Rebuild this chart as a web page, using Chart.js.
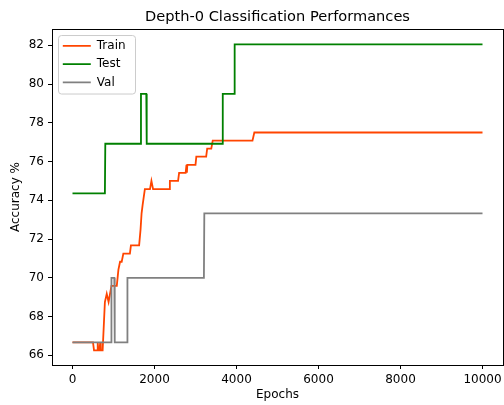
<!DOCTYPE html>
<html><head><meta charset="utf-8">
<script src="https://cdn.jsdelivr.net/npm/chart.js@4/dist/chart.umd.min.js"></script>
<style>html,body{margin:0;padding:0;background:#fff;}canvas{display:block;}</style>
</head><body>
<canvas id="c" width="504" height="405"></canvas>
<script>
const chartTitle = 'Depth-0 Classification Performances';
const seriesNames = ['Train', 'Test', 'Val'];
const xTicks = [0, 2000, 4000, 6000, 8000, 10000];
const yTicks = [66, 68, 70, 72, 74, 76, 78, 80, 82];

const trainEpochs = [0, 500, 525, 600, 615, 630, 660, 675, 690, 735, 790, 835, 880, 950, 1080, 1120, 1160, 1200, 1240, 1400, 1425, 1625, 1660, 1685, 1710, 1765, 1890, 1925, 1965, 2355, 2375, 2575, 2600, 2760, 2780, 2790, 2800, 3000, 3020, 3260, 3285, 3385, 3420, 4390, 4435, 10000];
const trainAcc = [66.67, 66.67, 66.25, 66.25, 66.67, 66.25, 66.25, 66.67, 66.25, 66.25, 68.75, 69.17, 68.75, 69.58, 69.58, 70.42, 70.83, 70.83, 71.25, 71.25, 71.67, 71.67, 72.50, 73.33, 73.75, 74.58, 74.58, 75.00, 74.58, 74.58, 75.00, 75.00, 75.42, 75.42, 75.83, 75.42, 75.83, 75.83, 76.25, 76.25, 76.67, 76.67, 77.08, 77.08, 77.50, 77.50];

const testEpochs = [0, 790, 800, 1660, 1670, 1800, 1810, 3655, 3665, 3945, 3955, 10000];
const testAcc = [74.36, 74.36, 76.92, 76.92, 79.49, 79.49, 76.92, 76.92, 79.49, 79.49, 82.05, 82.05];

const valEpochs = [0, 940, 950, 1020, 1030, 1330, 1340, 3205, 3215, 10000];
const valAcc = [66.67, 66.67, 70.00, 70.00, 66.67, 66.67, 70.00, 70.00, 73.33, 73.33];

const colors = ['#ff4500', '#008000', '#808080'];

function pts(xs, ys) { return xs.map((x, i) => ({x: x, y: ys[i]})); }

Chart.defaults.font.family = "'DejaVu Sans', sans-serif";
Chart.defaults.color = '#000';

const framePlugin = {
  id: 'frame',
  afterLayout(chart) {
    const lg = chart.legend, ca = chart.chartArea;
    if (lg) {
      const w = lg.width, h = lg.height;
      lg.left = ca.left + 4.5; lg.top = ca.top + 4.5;
      lg.right = lg.left + w; lg.bottom = lg.top + h;
    }
  },
  beforeDraw(chart) {
    const ctx = chart.ctx, ca = chart.chartArea;
    ctx.save();
    ctx.fillStyle = '#fff';
    ctx.fillRect(0, 0, chart.width, chart.height);
    const x = ca.left + 6.5, y = ca.top + 6.5, w = 77, h = 58.5;
    ctx.beginPath();
    ctx.roundRect(x, y, w, h, 3);
    ctx.fillStyle = 'rgba(255,255,255,0.8)';
    ctx.fill();
    ctx.strokeStyle = '#cccccc';
    ctx.lineWidth = 1;
    ctx.stroke();
    ctx.restore();
  },
  afterDraw(chart) {
    const ctx = chart.ctx, ca = chart.chartArea;
    ctx.save();
    ctx.strokeStyle = '#000';
    ctx.lineWidth = 1;
    ctx.strokeRect(Math.round(ca.left) + 0.5, Math.round(ca.top) + 0.5, Math.round(ca.right) - Math.round(ca.left), Math.round(ca.bottom) - Math.round(ca.top));
    ctx.restore();
  }
};

const series = [[trainEpochs, trainAcc], [testEpochs, testAcc], [valEpochs, valAcc]];

new Chart(document.getElementById('c'), {
  type: 'line',
  data: {
    datasets: series.map((s, i) => ({
      label: seriesNames[i],
      data: pts(s[0], s[1]),
      borderColor: colors[i],
      backgroundColor: colors[i],
      borderWidth: 1.8,
      pointRadius: 0,
      fill: false,
      tension: 0,
      order: 3 - i
    }))
  },
  options: {
    responsive: false,
    animation: false,
    events: [],
    layout: {padding: {top: 0, right: 1, bottom: 0, left: 0}},
    plugins: {
      title: {display: true, text: chartTitle, font: {size: 14.6, weight: 'normal'}, color: '#000', padding: {top: 8, bottom: 3.5}, fullSize: false},
      legend: {
        position: 'chartArea', align: 'start',
        labels: {
          usePointStyle: true, pointStyle: 'line', pointStyleWidth: 28, boxHeight: 12,
          font: {size: 12}, color: '#000', padding: 6.3,
          sort: (a, b) => a.datasetIndex - b.datasetIndex
        }
      },
      tooltip: {enabled: false}
    },
    scales: {
      x: {
        type: 'linear', min: -500, max: 10500,
        afterBuildTicks: s => { s.ticks = xTicks.map(v => ({value: v})); },
        afterFit: s => { s.height = 40; s.paddingLeft = 0; s.paddingRight = 0; },
        ticks: {callback: v => String(v), padding: 4, font: {size: 12}, color: '#000', maxRotation: 0, autoSkip: false},
        grid: {drawOnChartArea: false, drawTicks: true, tickLength: 4, color: '#000', lineWidth: 1},
        border: {display: false},
        title: {display: true, text: 'Epochs', font: {size: 12}, color: '#000', padding: {top: 0, bottom: 2.5}}
      },
      y: {
        type: 'linear', min: 65.5, max: 82.84,
        afterBuildTicks: s => { s.ticks = yTicks.map(v => ({value: v})); },
        afterFit: s => { s.width = 52; s.paddingTop = 0; s.paddingBottom = 0; },
        ticks: {callback: v => String(v), padding: 4, font: {size: 12}, color: '#000', autoSkip: false},
        grid: {drawOnChartArea: false, drawTicks: true, tickLength: 4, color: '#000', lineWidth: 1},
        border: {display: false},
        title: {display: true, text: 'Accuracy %', font: {size: 12}, color: '#000', padding: {top: 9, bottom: 0}}
      }
    }
  },
  plugins: [framePlugin]
});
</script>
</body></html>
